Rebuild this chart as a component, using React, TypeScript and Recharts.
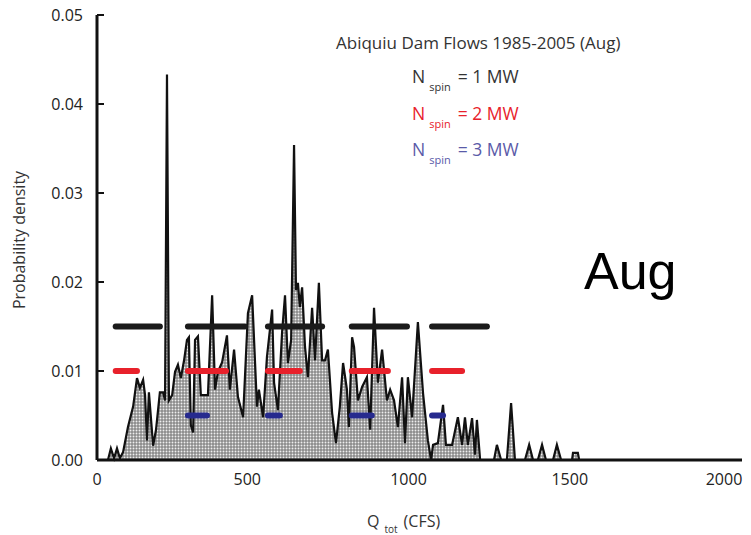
import { ComposedChart, Area, Line, XAxis, YAxis } from 'recharts';

// flow (CFS) and probability density
const flowCfs = [
  0, 34, 43, 53, 62, 71, 81, 96, 112, 124, 133, 143, 149, 155, 161, 174, 183, 195, 205, 211,
  217, 223, 233, 242, 251, 260, 270, 279, 285, 291, 298, 304, 313, 322, 344, 357, 366, 375, 388, 403,
  412, 425, 437, 453, 468, 481, 496, 502, 515, 527, 543, 549, 561, 574, 583, 592, 602, 611, 617, 623,
  629, 636, 645, 654, 667, 676, 688, 698, 707, 716, 729, 741, 753, 763, 775, 781, 791, 797, 809, 822,
  837, 847, 859, 871, 884, 899, 909, 921, 933, 946, 955, 964, 977, 995, 1011, 1026, 1036, 1042, 1057, 1073,
  1082, 1101, 1119, 1132, 1141, 1150, 1163, 1172, 1178, 1188, 1231, 1240, 1253, 1271, 1284, 1296, 1327, 1340, 1352, 1367,
  1380, 1392, 1414, 1426, 1439, 1473, 1476, 1491, 1495, 2000,
];
const density = [
  0, 0, 0.0013, 0.0002, 0.0013, 0.0002, 0.0009, 0.0037, 0.006, 0.0092, 0.0081, 0.009, 0.0073, 0.0022, 0.0076, 0.0016, 0.0034, 0.0076, 0.0076, 0.0067,
  0.0433, 0.0067, 0.0073, 0.0099, 0.0107, 0.0092, 0.0112, 0.0135, 0.0138, 0.0039, 0.0031, 0.0135, 0.0139, 0.0073, 0.0073, 0.0185, 0.0079, 0.0099, 0.011, 0.014,
  0.0079, 0.0124, 0.0071, 0.0048, 0.0165, 0.0185, 0.006, 0.0079, 0.0048, 0.0116, 0.0169, 0.0087, 0.0056, 0.0144, 0.0185, 0.0109, 0.0135, 0.0354, 0.0191, 0.0199,
  0.0172, 0.0194, 0.0127, 0.0093, 0.0171, 0.0112, 0.0199, 0.0112, 0.0112, 0.0124, 0.0053, 0.0019, 0.006, 0.0109, 0.0079, 0.0037, 0.0138, 0.0127, 0.0067, 0.0082,
  0.0093, 0.0034, 0.0171, 0.0087, 0.0124, 0.0067, 0.0079, 0.0067, 0.0037, 0.0093, 0.0019, 0.0093, 0.0048, 0.0155, 0.0075, 0.0022, 0, 0.0017, 0.0019, 0.0062,
  0.0017, 0.0017, 0.0048, 0.0017, 0.0048, 0.0017, 0.0047, 0.0006, 0.0045, 0, 0, 0.0017, 0, 0, 0.0064, 0, 0, 0.0017, 0, 0,
  0.0017, 0, 0, 0.0017, 0, 0, 0.0008, 0.0008, 0, 0,
];

// flow ranges for each spinning reserve level
const spin1Ranges = [[58, 195], [282, 459], [530, 698], [790, 961], [1039, 1209]];
const spin2Ranges = [[58, 124], [282, 400], [530, 629], [790, 902], [1039, 1132]];
const spin3Ranges = [[282, 341], [530, 567], [790, 852], [1039, 1073]];
const spinLevels = [0.015, 0.01, 0.005];
const spinColors = ['#1b1b1b', '#e8212b', '#262a8e'];
const spinLabels = ['= 1 MW', '= 2 MW', '= 3 MW'];
const legendText = ['#333333', '#e8212b', '#5a5aa8'];

const xTicks = [0, 500, 1000, 1500, 2000];
const yTicks = [0, 0.01, 0.02, 0.03, 0.04, 0.05];

const font = '"Open Sans", sans-serif';

// the printed x labels sit a little left of their ticks, except the 0
function XTick(props: any) {
  const { x, y, payload } = props;
  const shift = payload.value === 0 ? 0 : -11;
  return (
    <text x={x + shift} y={y} dy="0.71em" textAnchor="middle" fill="#222" fontSize={16} fontFamily={font}>
      {payload.value}
    </text>
  );
}

export default function App() {
  const chartData = flowCfs.map((cfs, i) => ({ cfs, density: density[i] }));
  const ranges = [spin1Ranges, spin2Ranges, spin3Ranges];

  return (
    <div style={{ position: 'absolute', left: 0, top: 0, width: 751, height: 535, background: '#fff', fontFamily: font }}>
      <ComposedChart width={751} height={535} data={chartData} margin={{ top: 15, right: 9, bottom: 0, left: 0 }}>
        <defs>
          <pattern id="stipple" width="3" height="3" patternUnits="userSpaceOnUse">
            <rect width="3" height="3" fill="#8a8a8a" />
            <circle cx="1.5" cy="1.5" r="0.95" fill="#eeeeee" />
          </pattern>
        </defs>
        <XAxis
          dataKey="cfs"
          type="number"
          domain={[0, 2000]}
          ticks={xTicks}
          height={75}
          axisLine={{ stroke: '#111', strokeWidth: 3 }}
          tickLine={false}
          tickSize={0}
          tickMargin={14}
          tick={<XTick />}
        />
        <YAxis
          type="number"
          domain={[0, 0.05]}
          ticks={yTicks}
          width={97}
          axisLine={{ stroke: '#111', strokeWidth: 3 }}
          tickLine={{ stroke: '#111', strokeWidth: 2 }}
          tickSize={-7}
          tickMargin={21}
          tick={{ fill: '#222', fontSize: 16, fontFamily: font }}
          tickFormatter={(v: number) => v.toFixed(2)}
        />
        <Area
          type="linear"
          dataKey="density"
          stroke="#111"
          strokeWidth={2.2}
          fill="url(#stipple)"
          fillOpacity={1}
          isAnimationActive={false}
        />
        {ranges.map((set, k) =>
          set.map(([a, b], j) => (
            <Line
              key={`${k}-${j}`}
              data={[
                { cfs: a, level: spinLevels[k] },
                { cfs: b, level: spinLevels[k] },
              ]}
              dataKey="level"
              stroke={spinColors[k]}
              strokeWidth={6}
              strokeLinecap="round"
              dot={false}
              activeDot={false}
              isAnimationActive={false}
            />
          ))
        )}
      </ComposedChart>

      {/* y axis title */}
      <div
        style={{
          position: 'absolute',
          left: 19,
          top: 240,
          transform: 'translate(-50%, -50%) rotate(-90deg)',
          whiteSpace: 'nowrap',
          fontSize: 16,
          color: '#333',
        }}
      >
        Probability density
      </div>

      {/* x axis title */}
      <div style={{ position: 'absolute', left: 367, top: 510, whiteSpace: 'nowrap', fontSize: 16, color: '#333' }}>
        Q<span style={{ fontSize: 10, position: 'relative', top: 6, marginLeft: 5, marginRight: 6 }}>tot</span>(CFS)
      </div>

      <div style={{ position: 'absolute', left: 336, top: 31, whiteSpace: 'nowrap', fontSize: 17, color: '#333' }}>
        Abiquiu Dam Flows 1985-2005 (Aug)
      </div>

      {spinLabels.map((lbl, i) => (
        <div
          key={lbl}
          style={{
            position: 'absolute',
            left: 412,
            top: 64 + i * 36.5,
            whiteSpace: 'nowrap',
            fontSize: 17.5,
            color: legendText[i],
          }}
        >
          N<span style={{ fontSize: 11, position: 'relative', top: 8, marginLeft: 4, marginRight: 7 }}>spin</span>
          {lbl}
        </div>
      ))}

      <div
        style={{
          position: 'absolute',
          left: 584,
          top: 240,
          fontSize: 52,
          fontFamily: '"Liberation Sans", Arial, sans-serif',
          color: '#000',
          lineHeight: 1.2,
        }}
      >
        Aug
      </div>
    </div>
  );
}
